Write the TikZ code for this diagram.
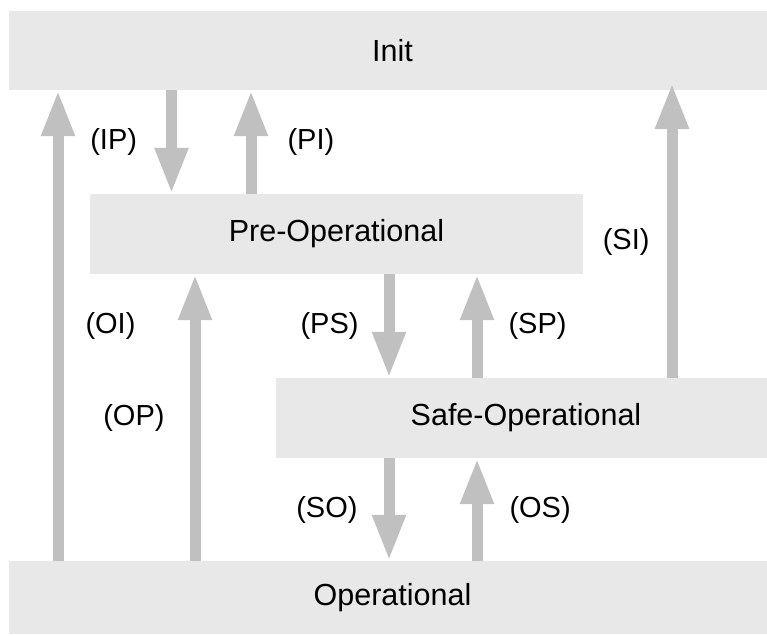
\documentclass[tikz,border=0pt]{standalone}
\usepackage{fontspec}
\setmainfont{Liberation Sans}
\usetikzlibrary{arrows.meta}
\definecolor{stategray}{RGB}{232,232,232}
\definecolor{transgray}{RGB}{192,192,192}
\tikzset{
  state/.style={fill=stategray,inner sep=0pt,font=\fontsize{30.5}{36}\selectfont},
  trans/.style={draw=transgray,line width=11pt,-{Triangle[width=31pt,length=46pt]}},
  lbl/.style={midway,inner sep=0pt,font=\fontsize{29}{34}\selectfont}
}
\begin{document}
\begin{tikzpicture}[x=1pt,y=-1pt]
\useasboundingbox (0,0) rectangle (767,635);
% states
\node[state,minimum width=767pt,minimum height=79pt] (init) at (392.5,50.5) {Init};
\node[state,minimum width=493pt,minimum height=80pt] (pre) at (336.5,234) {Pre-Operational};
\node[state,minimum width=500pt,minimum height=80pt] (safe) at (526,418) {Safe-Operational};
\node[state,minimum width=767pt,minimum height=73pt] (oper) at (392.5,597.5) {Operational};
\coordinate (siend) at (672,83);

% transitions
\draw[trans] (171.5,0 |- init.south) -- node[lbl,left=29pt]{(IP)} (171.5,0 |- pre.north);
\draw[trans] (251,0 |- pre.north) -- node[lbl,right=31pt]{(PI)} (251,0 |- init.south);
\draw[trans] (58,0 |- oper.north) -- node[lbl,right=22pt]{(OI)} (58,0 |- init.south);
\draw[trans] (195,0 |- oper.north) -- node[lbl,left=25pt]{(OP)} (195,0 |- pre.south);
\draw[trans] (389,0 |- pre.south) -- node[lbl,left=25pt]{(PS)} (389,0 |- safe.north);
\draw[trans] (477,0 |- safe.north) -- node[lbl,right=26pt]{(SP)} (477,0 |- pre.south);
\draw[trans] (siend |- safe.north) -- node[lbl,pos=0.46,left=17pt]{(SI)} (siend);
\draw[trans] (389,0 |- safe.south) -- node[lbl,left=26pt]{(SO)} (389,0 |- oper.north);
\draw[trans] (477,0 |- oper.north) -- node[lbl,right=27pt]{(OS)} (477,0 |- safe.south);
\end{tikzpicture}
\end{document}
